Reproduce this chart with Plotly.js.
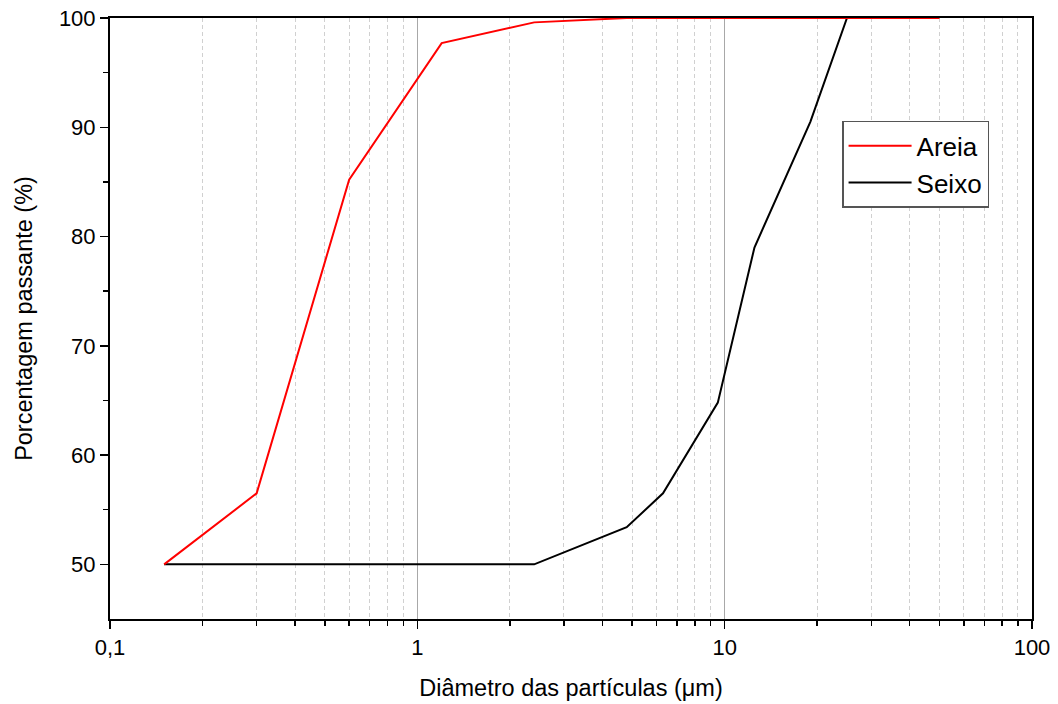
<!DOCTYPE html>
<html>
<head>
<meta charset="utf-8">
<script src="https://cdn.plot.ly/plotly-3.0.1.min.js"></script>
<style>html,body{margin:0;padding:0;background:#fff;}#chart{width:1058px;height:704px;}</style>
</head>
<body>
<div id="chart"></div>
<script>
const areiaX = [0.15, 0.3, 0.6, 1.2, 2.4, 4.8, 6.3, 9.5, 12.5, 19, 25, 50];
const areiaY = [50, 56.5, 85.2, 97.7, 99.6, 100, 100, 100, 100, 100, 100, 100];
const seixoX = [0.15, 0.3, 0.6, 1.2, 2.4, 4.8, 6.3, 9.5, 12.5, 19, 25];
const seixoY = [50, 50, 50, 50, 50, 53.4, 56.5, 64.8, 79.0, 90.5, 100];
const xTickVals = [0.1, 1, 10, 100];
const xTickText = ['0,1', '1', '10', '100'];
const yTickVals = [50, 60, 70, 80, 90, 100];

const xMinor = [];
[0.1, 1, 10].forEach(d => { for (let k = 2; k <= 9; k++) xMinor.push(+(d * k).toFixed(3)); });
const yMinor = [55, 65, 75, 85, 95];

const FONT = 'Liberation Sans, Arial, sans-serif';

const traces = [
  {x: seixoX, y: seixoY, name: 'Seixo', mode: 'lines', line: {color: '#000000', width: 2}, legendrank: 2},
  {x: areiaX, y: areiaY, name: 'Areia', mode: 'lines', line: {color: '#ff0000', width: 2}, legendrank: 1}
];

const layout = {
  width: 1058, height: 704,
  margin: {l: 110, r: 26, t: 18, b: 85},
  paper_bgcolor: '#ffffff', plot_bgcolor: '#ffffff',
  font: {family: FONT, color: '#000', size: 22},
  showlegend: true,
  legend: {
    x: 0.794, y: 0.829, xanchor: 'left', yanchor: 'top',
    bgcolor: '#ffffff', bordercolor: '#555555', borderwidth: 1.5,
    font: {family: FONT, size: 26, color: '#000'},
    itemwidth: 63,
    traceorder: 'normal', tracegroupgap: 0
  },
  xaxis: {
    type: 'log', range: [-1, 2],
    tickmode: 'array', tickvals: xTickVals, ticktext: xTickText,
    ticks: 'outside', ticklen: 8, tickwidth: 1.5, tickcolor: '#000',
    showline: true, linecolor: '#000', linewidth: 2, mirror: true,
    showgrid: true, gridcolor: '#a8a8a8', gridwidth: 1,
    zeroline: false,
    tickfont: {family: FONT, size: 22, color: '#000'},
    minor: {tickmode: 'array', tickvals: xMinor, ticks: 'outside', ticklen: 5, tickwidth: 1.5, tickcolor: '#000',
            showgrid: true, gridcolor: '#d0d0d0', griddash: '4px,3px', gridwidth: 1},
    title: {text: 'Diâmetro das partículas (μm)', font: {family: FONT, size: 23.5, color: '#000'}, standoff: 20}
  },
  yaxis: {
    range: [45, 100],
    tickmode: 'array', tickvals: yTickVals,
    ticks: 'outside', ticklen: 8, tickwidth: 1.5, tickcolor: '#000',
    showline: true, linecolor: '#000', linewidth: 2, mirror: true,
    showgrid: false, zeroline: false,
    tickfont: {family: FONT, size: 22, color: '#000'},
    minor: {tickmode: 'array', tickvals: yMinor, ticks: 'outside', ticklen: 5, tickwidth: 1.5, tickcolor: '#000', showgrid: false},
    title: {text: 'Porcentagem passante (%)', font: {family: FONT, size: 23.5, color: '#000'}, standoff: 20}
  }
};

Plotly.newPlot('chart', traces, layout, {displayModeBar: false, staticPlot: true});
</script>
</body>
</html>
